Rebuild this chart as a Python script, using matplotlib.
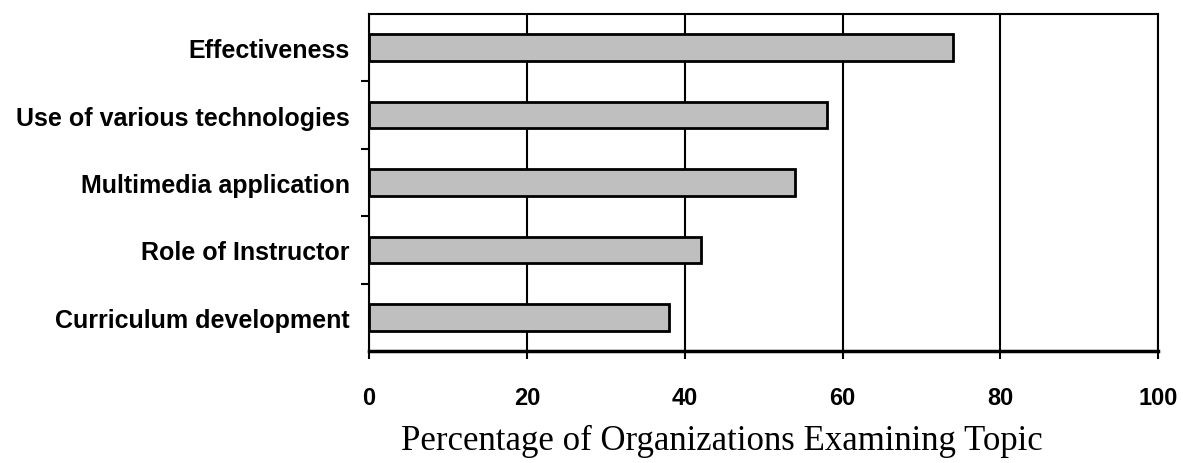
import matplotlib.pyplot as plt
import numpy as np

topics = ['Effectiveness', 'Use of various technologies', 'Multimedia application',
          'Role of Instructor', 'Curriculum development']
percent = [74, 58, 54, 42, 38]
x_ticks = [0, 20, 40, 60, 80, 100]

fig = plt.figure(figsize=(11.83, 4.64), dpi=100)
ax = fig.add_axes([0.312, 0.241, 0.667, 0.727])

# bars from top to bottom
y = np.arange(len(topics))[::-1]
ax.barh(y, percent, height=0.39, color='#bfbfbf', edgecolor='black', linewidth=2, zorder=3)

ax.set_xlim(0, 100)
ax.set_ylim(-0.5, len(topics) - 0.5)

# gridlines at each 20
ax.set_xticks(x_ticks)
ax.set_xticklabels([str(t) for t in x_ticks], fontsize=17, fontweight='bold', family='Liberation Sans')
ax.xaxis.grid(True, color='black', linewidth=1.5, zorder=1)
ax.tick_params(axis='x', direction='out', length=6, width=1.5, pad=19)

# category labels at bar centres, ticks at the boundaries
ax.set_yticks(y)
ax.set_yticklabels(topics, fontsize=18, fontweight='bold', family='Liberation Sans')
ax.set_yticks(np.arange(len(topics) - 1) + 0.5, minor=True)
ax.tick_params(axis='y', which='major', length=0, pad=14)
ax.tick_params(axis='y', which='minor', direction='out', length=6, width=1.5)

for side in ['left', 'top']:
    ax.spines[side].set_linewidth(1.5)
ax.spines['bottom'].set_linewidth(2.5)
ax.spines['right'].set_linewidth(1.5)

ax.set_xlabel('Percentage of Organizations Examining Topic', fontsize=25,
              family='Liberation Serif', va='baseline')
ax.xaxis.set_label_coords(0.447, -0.29)

fig.savefig('out.png', dpi=100)
